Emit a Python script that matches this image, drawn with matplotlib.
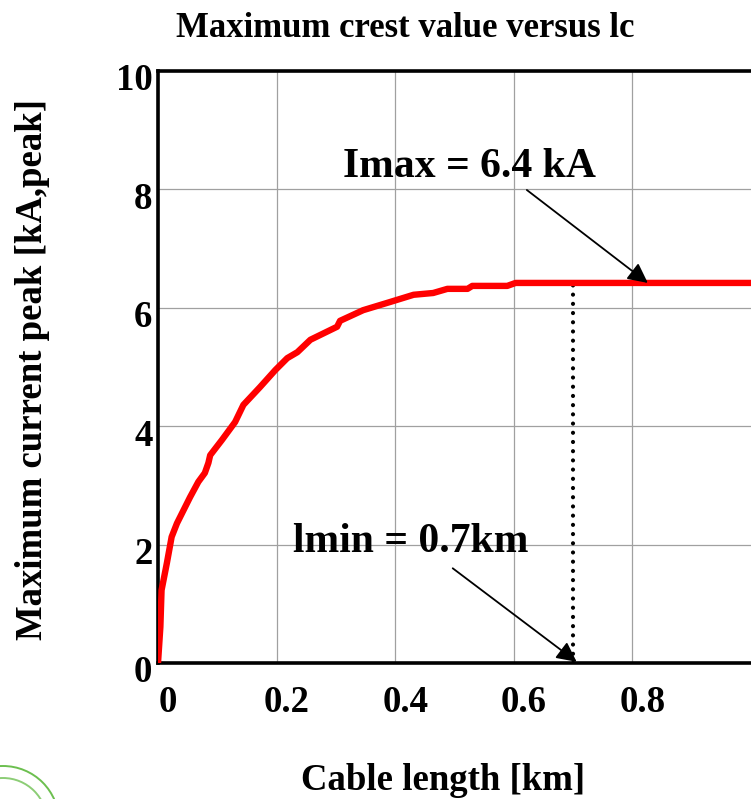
import matplotlib
matplotlib.use("Agg")
import matplotlib.pyplot as plt
from matplotlib.transforms import ScaledTranslation
from matplotlib.patches import Arc

# ---- data ----
cable_km = [0, 0.004, 0.006, 0.015, 0.023, 0.032, 0.043, 0.054, 0.068, 0.079,
            0.085, 0.088, 0.108, 0.130, 0.144, 0.172, 0.198, 0.218, 0.235, 0.257,
            0.302, 0.307, 0.346, 0.392, 0.431, 0.464, 0.488, 0.522, 0.530, 0.589,
            0.603, 1.0]
peak_kA = [0, 0.61, 1.23, 1.69, 2.13, 2.36, 2.58, 2.80, 3.06, 3.21,
           3.38, 3.51, 3.77, 4.07, 4.36, 4.66, 4.95, 5.15, 5.25, 5.46,
           5.68, 5.78, 5.96, 6.10, 6.22, 6.25, 6.32, 6.32, 6.37, 6.37,
           6.42, 6.42]
x_ticks = [0, 0.2, 0.4, 0.6, 0.8]
x_tick_labels = ["0", "0.2", "0.4", "0.6", "0.8"]
y_ticks = [0, 2, 4, 6, 8, 10]
y_tick_labels = ["0", "2", "4", "6", "8", "10"]
lmin_km = 0.7
imax_kA = 6.42
imax_text = "Imax = 6.4 kA"
lmin_text = "lmin = 0.7km"

plt.rcParams["font.family"] = ["Liberation Serif", "DejaVu Serif"]
plt.rcParams["font.weight"] = "bold"

W, H = 751, 799
fig = plt.figure(figsize=(W / 100, H / 100), dpi=100)
ax = fig.add_axes([158 / W, 1 - 663 / H, (751 - 158) / W, (663 - 71) / H])

ax.set_xlim(0, 1.0)
ax.set_ylim(0, 10)
ax.set_xticks(x_ticks)
ax.set_xticklabels(x_tick_labels)
ax.set_yticks(y_ticks)
ax.set_yticklabels(y_tick_labels)
ax.tick_params(length=0, labelsize=26.5)
ax.tick_params(axis="x", pad=16)
ax.tick_params(axis="y", pad=4)
for lab in ax.get_xticklabels() + ax.get_yticklabels():
    lab.set_fontweight("bold")

ax.grid(True, color="#a0a0a0", lw=0.9)
ax.set_axisbelow(True)
for s in ["left", "top", "bottom"]:
    ax.spines[s].set_linewidth(2.6)
    ax.spines[s].set_color("black")
ax.spines["right"].set_visible(False)

# dotted marker line
ax.plot([lmin_km, lmin_km], [0, imax_kA], color="black", lw=3.0,
        linestyle=(0, (0.01, 2.2)), dash_capstyle="round", zorder=2)
# curve
ax.plot(cable_km, peak_kA, color="#ff0000", lw=4.6, zorder=3,
        solid_joinstyle="round")

# annotations
ax.text(0.525, 8.21, imax_text, ha="center", va="baseline", fontsize=30,
        fontweight="bold")
ax.annotate("", xy=(0.826, imax_kA), xytext=(0.622, 7.99),
            arrowprops=dict(arrowstyle="-|>", color="black", lw=1.3,
                            mutation_scale=30, shrinkA=0, shrinkB=0), zorder=4)
ax.text(0.4257, 1.875, lmin_text, ha="center", va="baseline", fontsize=30,
        fontweight="bold")
ax.annotate("", xy=(0.706, 0.02), xytext=(0.497, 1.60),
            arrowprops=dict(arrowstyle="-|>", color="black", lw=1.3,
                            mutation_scale=30, shrinkA=0, shrinkB=0), zorder=4)

# tick label offsets
for lab in ax.get_xticklabels():
    lab.set_transform(lab.get_transform() + ScaledTranslation(0.10, 0, fig.dpi_scale_trans))
for lab in ax.get_yticklabels():
    lab.set_transform(lab.get_transform() + ScaledTranslation(0, -0.06, fig.dpi_scale_trans))

# titles / labels
fig.text(405 / W, 1 - 37 / H, "Maximum crest value versus lc", ha="center",
         va="baseline", fontsize=25, fontweight="bold")
fig.text(443 / W, 1 - 790 / H, "Cable length [km]", ha="center",
         va="baseline", fontsize=26.5, fontweight="bold")
fig.text(33 / W, 1 - 370 / H, "Maximum current peak [kA,peak]", ha="center",
         va="center", rotation=90, fontsize=26.5, fontweight="bold")

# decorative green arcs (logo fragment, bottom-left)
cx, cy = 3 / W, 1 - 822 / H
for r, a in [(56, 0.9), (44, 0.7)]:
    fig.add_artist(Arc((cx, cy), 2 * r / W, 2 * r / H, theta1=0, theta2=180,
                       transform=fig.transFigure, color="#5cb83c", lw=1.4,
                       alpha=a))

fig.savefig("out.png", dpi=100)
